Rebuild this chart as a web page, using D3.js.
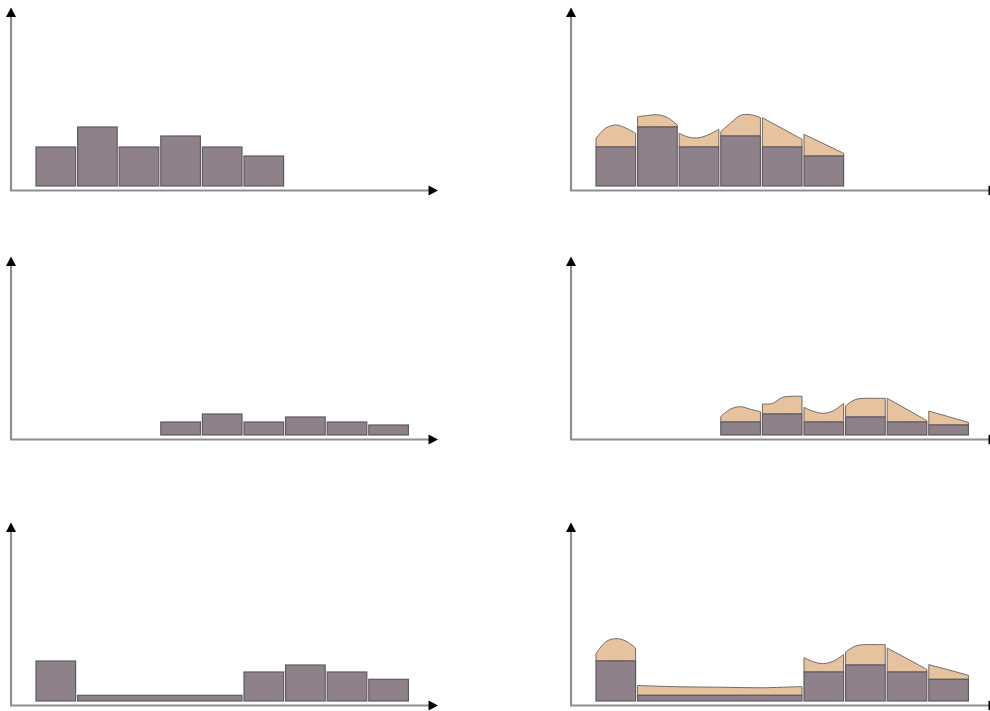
<!DOCTYPE html>
<html><head><meta charset="utf-8">
<script src="https://cdn.jsdelivr.net/npm/d3@7"></script>
<style>html,body{margin:0;padding:0;background:#fff;overflow:hidden}</style>
</head><body>
<script>
// ---- data ----
const topBins = [[0,1],[1,2],[2,3],[3,4],[4,5],[5,6]];
const topCounts = [39, 59, 39, 50, 39, 30];
const midBins = [[3,4],[4,5],[5,6],[6,7],[7,8],[8,9]];
const midCounts = [13, 21, 13, 18, 13, 10];
const lowBins = [[0,1],[1,5],[5,6],[6,7],[7,8],[8,9]];
const lowCounts = [40, 5.7, 29, 36, 29, 21.7];
// estimate heights sampled across each bar (at estimateSteps)
const estimateSteps = [0, 0.25, 0.5, 0.75, 1];
const topEstimate = [
  [47.7, 58, 61, 58, 52.7],
  [69.3, 70.5, 71.3, 68.5, 61],
  [52.7, 48.7, 48.3, 51.5, 56.7],
  [54.3, 63, 70.7, 71.3, 68.5],
  [68.3, 62.9, 57.5, 52.1, 46.7],
  [51.7, 46.95, 42.2, 37.45, 32.7]
];
const midEstimate = [
  [18.6, 26, 28.3, 25.7, 23.3],
  [31, 31.5, 37.5, 38.7, 38.7],
  [27.7, 23.5, 21.7, 24.5, 31.7],
  [29.3, 35.5, 36.7, 36.7, 36.7],
  [36.7, 31.15, 25.6, 20.05, 14.5],
  [24, 21.15, 18.3, 15.45, 12.6]
];
const lowEstimate = [
  [47.4, 59.3, 62.4, 60, 53],
  [15.5, 14.2, 13.8, 13.2, 14.5],
  [43.4, 39, 37.4, 40, 46.4],
  [49, 55, 56.4, 56.4, 56.4],
  [53, 47.7, 42.35, 37, 31.7],
  [36.4, 33.7, 31.05, 28.4, 25.7]
];

const panels = [
  {bins: topBins, counts: topCounts, est: null, ox: 0, oy: 0},
  {bins: topBins, counts: topCounts, est: topEstimate, ox: 560, oy: 0},
  {bins: midBins, counts: midCounts, est: null, ox: 0, oy: 249},
  {bins: midBins, counts: midCounts, est: midEstimate, ox: 560, oy: 249},
  {bins: lowBins, counts: lowCounts, est: null, ox: 0, oy: 515},
  {bins: lowBins, counts: lowCounts, est: lowEstimate, ox: 560, oy: 515}
];

const W = 990, H = 711;
const svg = d3.select("body").append("svg").attr("width", W).attr("height", H);

const x = d3.scaleLinear().domain([0, 10]).range([36, 452]);
const y = d3.scaleLinear().domain([0, 180]).range([186, 6]);

const barFill = "#8f8189", barStroke = "#5f5a5d", estFill = "#e6c39e", axisColor = "#8e8e8e";

panels.forEach(p => {
  const g = svg.append("g").attr("transform", `translate(${p.ox},${p.oy})`);
  const ax = 11, ay = 190.5;
  // axes
  g.append("line").attr("x1", ax).attr("y1", ay).attr("x2", ax).attr("y2", 15)
    .attr("stroke", axisColor).attr("stroke-width", 2.2);
  g.append("line").attr("x1", ax - 1).attr("y1", ay).attr("x2", 430).attr("y2", ay)
    .attr("stroke", axisColor).attr("stroke-width", 2.2);
  g.append("path").attr("d", `M${ax},7.5 L${ax - 5},17 L${ax + 5},17 Z`).attr("fill", "#000");
  g.append("path").attr("d", `M438,${ay} L428.5,${ay - 5} L428.5,${ay + 5} Z`).attr("fill", "#000");

  const bars = p.bins.map((b, i) => ({x0: x(b[0]), x1: x(b[1]) - 2, c: p.counts[i], i}));

  if (p.est) {
    const area = d3.area()
      .x(d => d.x).y0(d => d.base).y1(d => y(d.h))
      .curve(d3.curveCatmullRom.alpha(0.5));
    bars.forEach(b => {
      const pts = estimateSteps.map((t, k) => ({
        x: b.x0 + t * (b.x1 - b.x0), h: p.est[b.i][k], base: y(b.c)
      }));
      g.append("path").attr("d", area(pts))
        .attr("fill", estFill).attr("stroke", "#6e6a66").attr("stroke-width", 1);
    });
  }

  g.selectAll("rect.bar").data(bars).join("rect").attr("class", "bar")
    .attr("x", d => d.x0).attr("width", d => d.x1 - d.x0)
    .attr("y", d => y(d.c)).attr("height", d => y(0) - y(d.c))
    .attr("fill", barFill).attr("stroke", barStroke).attr("stroke-width", 1.2);
});
</script>
</body></html>
